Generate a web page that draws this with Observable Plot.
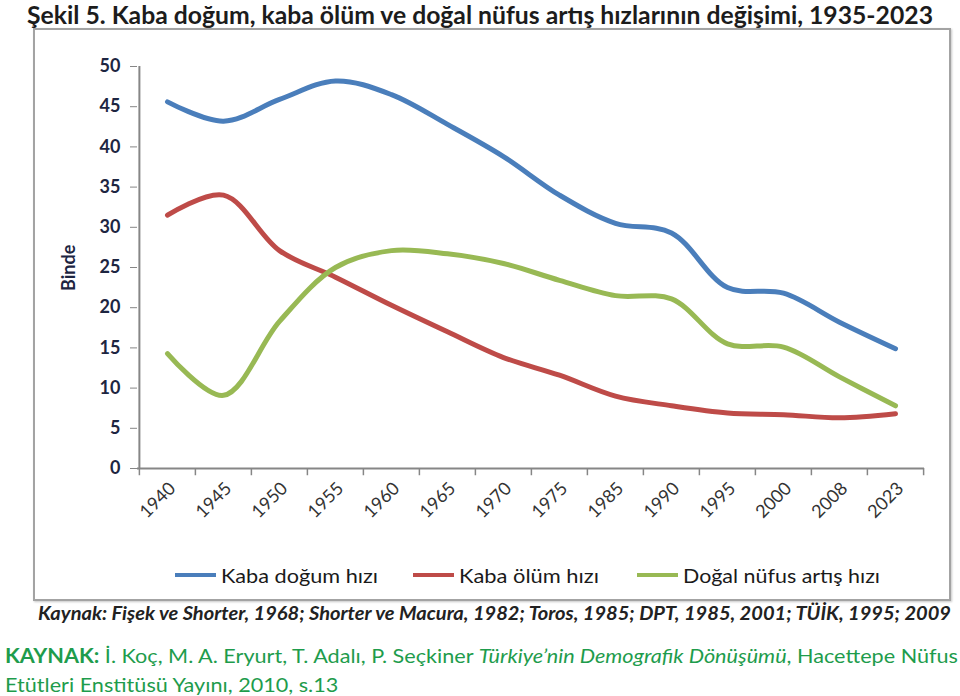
<!DOCTYPE html>
<html><head><meta charset="utf-8">
<script src="https://cdn.jsdelivr.net/npm/d3@7"></script>
<script src="https://cdn.jsdelivr.net/npm/@observablehq/plot@0.6"></script>
<style>
body{margin:0;background:#fff;}
#page{position:relative;width:960px;height:696px;overflow:hidden;font-family:Lato,"Open Sans",sans-serif;background:#fff;}
.abs{position:absolute;white-space:nowrap;line-height:1;transform-origin:0 50%;}
</style></head><body><div id="page">
<div id="title" class="abs" style="left:27px;top:2px;font-weight:700;font-size:25px;color:#1c1c1c;">Şekil 5. Kaba doğum, kaba ölüm ve doğal nüfus artış hızlarının değişimi, 1935-2023</div>
<div id="box" class="abs" style="left:33px;top:28px;width:918px;height:573px;border:2px solid #a3a3a3;box-sizing:border-box;box-shadow:1px 1px 2px #c8c8c8;"></div>
<div id="chart" class="abs" style="left:0;top:28px;"></div>
<div id="ylabel" class="abs" style="left:68px;top:268px;font-weight:700;font-size:18px;color:#1d2541;transform-origin:0 0;">Binde</div>
<div id="legend"></div>
<div id="src" class="abs" style="left:38px;top:604px;font-weight:700;font-style:italic;font-size:18px;color:#222;">Kaynak: Fişek ve Shorter, 1968; Shorter ve Macura, 1982; Toros, 1985; DPT, 1985, 2001; TÜİK, 1995; 2009</div>
<div id="ref1" class="abs" style="left:5px;top:645px;font-size:20px;color:#1e9c4c;"><b>KAYNAK:</b> İ. Koç, M. A. Eryurt, T. Adalı, P. Seçkiner <i>Türkiye’nin Demografik Dönüşümü</i>, Hacettepe Nüfus</div>
<div id="ref2" class="abs" style="left:5px;top:674px;font-size:20px;color:#1e9c4c;">Etütleri Enstitüsü Yayını, 2010, s.13</div>
</div>
<script>
const years = ["1940","1945","1950","1955","1960","1965","1970","1975","1985","1990","1995","2000","2008","2023"];
const birthRate   = [45.6, 43.2, 45.9, 48.2, 46.5, 42.8, 38.8, 34.0, 30.5, 29.3, 22.5, 21.8, 18.2, 14.9];
const deathRate   = [31.5, 34.0, 27.1, 23.8, 20.3, 17.0, 13.8, 11.6, 9.0, 7.8, 6.9, 6.7, 6.3, 6.8];
const naturalRate = [14.3, 9.1, 18.3, 25.0, 27.1, 26.7, 25.5, 23.4, 21.5, 21.1, 15.5, 15.1, 11.4, 7.8];
const yTicks = [0, 5, 10, 15, 20, 25, 30, 35, 40, 45, 50];
const seriesNames = ["Kaba doğum hızı", "Kaba ölüm hızı", "Doğal nüfus artış hızı"];
const seriesColors = ["#4a7ebb", "#be4b48", "#98b954"];

const rows = [];
[birthRate, deathRate, naturalRate].forEach((arr, s) =>
  arr.forEach((v, i) => rows.push({year: years[i], value: v, series: seriesNames[s]})));

const W = 960, H = 530, mL = 137, mR = 36, mT = 38, mB = 90;
const step = (W - mL - mR) / years.length;
const axisGray = "#868686";

const chart = Plot.plot({
  width: W, height: H,
  marginLeft: mL, marginRight: mR, marginTop: mT, marginBottom: mB,
  style: {fontFamily: "Lato, sans-serif", background: "transparent", overflow: "visible"},
  x: {type: "point", domain: years, padding: 0.5, align: 0.5},
  y: {domain: [0, 50]},
  color: {domain: seriesNames, range: seriesColors},
  marks: [
    Plot.ruleY([0], {stroke: axisGray, strokeWidth: 2}),
    Plot.ruleX([years[0]], {y1: 0, y2: 50, dx: -step / 2, stroke: axisGray, strokeWidth: 2}),
    Plot.ruleX(years, {y1: 0, y2: -0.9, dx: -step / 2, stroke: axisGray, strokeWidth: 1.5}),
    Plot.ruleX([years[years.length - 1]], {y1: 0, y2: -0.9, dx: step / 2, stroke: axisGray, strokeWidth: 1.5}),
    Plot.axisY({ticks: yTicks, tickSize: 7, tickPadding: 10, label: null, stroke: axisGray, fill: "#1d2541", fontSize: 18, fontWeight: 700}),
    Plot.axisX({tickSize: 0, tickRotate: -45, tickPadding: 17, dx: 5, label: null, fill: "#333", fontSize: 18}),
    Plot.line(rows, {x: "year", y: "value", stroke: "series", z: "series", strokeWidth: 5, curve: "catmull-rom", strokeLinecap: "round"})
  ]
});
document.getElementById("chart").appendChild(chart);

// legend
const legend = document.getElementById("legend");
const legendX = [175, 413, 637];
const legendW = [157, 140, 197];
seriesNames.forEach((name, i) => {
  const line = document.createElement("div");
  line.style.cssText = `position:absolute;left:${legendX[i]}px;top:573px;width:41px;height:4px;background:${seriesColors[i]};`;
  legend.appendChild(line);
  const t = document.createElement("div");
  t.className = "abs";
  t.style.cssText += `left:${legendX[i] + 46}px;top:565px;font-size:20px;color:#1a1a1a;`;
  t.textContent = name;
  legend.appendChild(t);
  fit(t, legendW[i]);
});

function fit(el, w) {
  const r = el.getBoundingClientRect().width;
  el.style.transform = `scaleX(${w / r})`;
  return w / r;
}
fit(document.getElementById("title"), 906);
fit(document.getElementById("src"), 913);
const k = fit(document.getElementById("ref1"), 953);
document.getElementById("ref2").style.transform = `scaleX(${k})`;
const yl = document.getElementById("ylabel");
const ylw = yl.getBoundingClientRect().width;
yl.style.left = "59px";
yl.style.top = (268 + ylw / 2) + "px";
yl.style.transform = "rotate(-90deg)";
</script>
</body></html>
